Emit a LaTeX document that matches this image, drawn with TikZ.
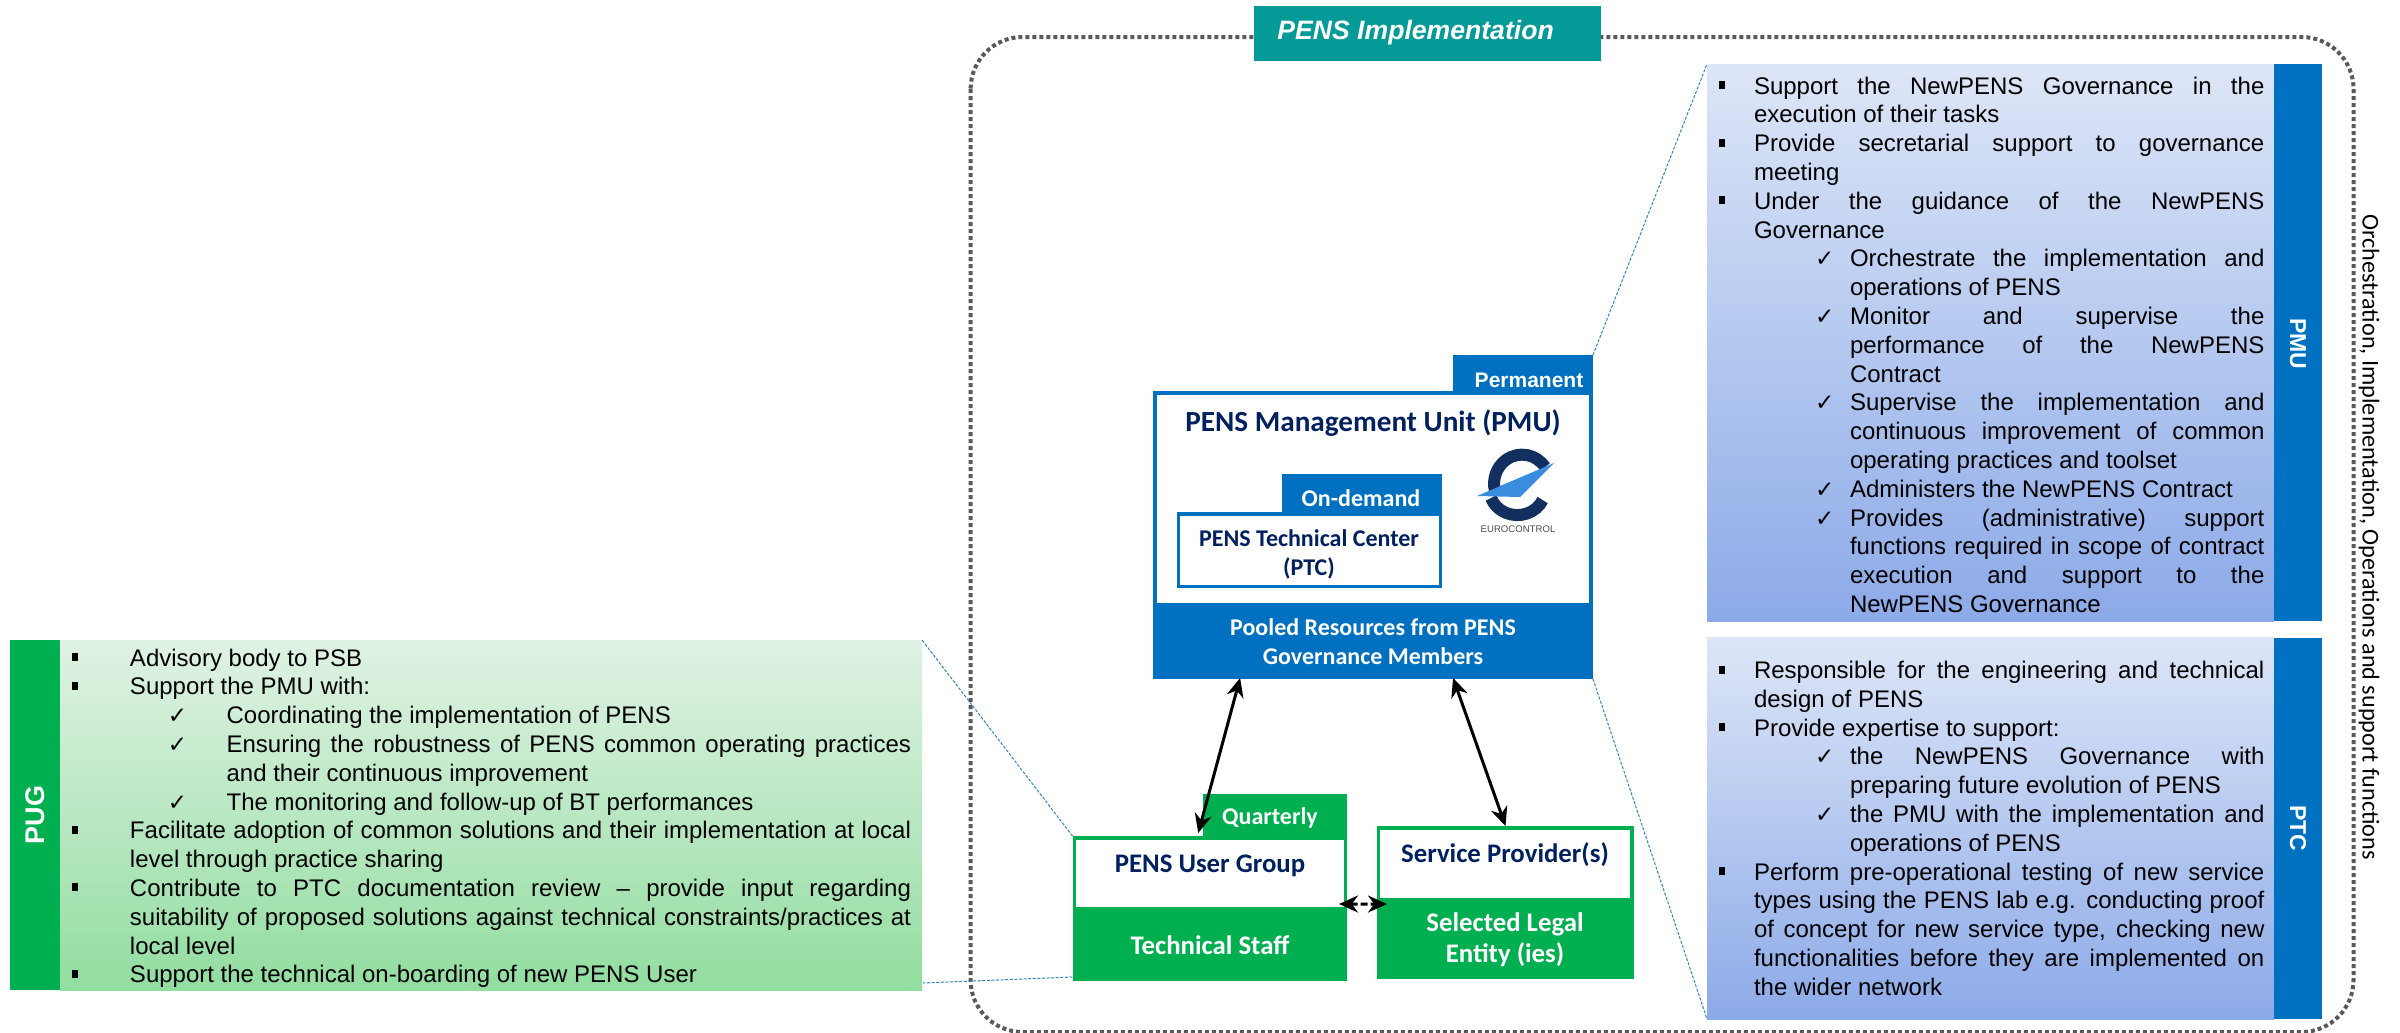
\documentclass[tikz,border=0pt]{standalone}
\usepackage{fontspec}
\setmainfont{Liberation Sans}
\newfontfamily\calib{Carlito}
\newfontfamily\symb{DejaVu Sans}
\usetikzlibrary{arrows.meta,calc}
\definecolor{pblue}{HTML}{0070C0}
\definecolor{pgreen}{HTML}{00B050}
\definecolor{pnavy}{HTML}{002060}
\definecolor{pteal}{HTML}{039A97}
\definecolor{pgrey}{HTML}{595959}
\definecolor{pline}{HTML}{2E86C8}
\definecolor{logodark}{HTML}{12305F}
\definecolor{logolight}{HTML}{3A8DDE}
\hbadness=10000 \hfuzz=20pt
\newlength\pw \newlength\mkx \newlength\txa \newlength\cka \newlength\txb
\newcommand\lineraw[4]{\hbox to \pw{\vrule height10.5pt depth3.9pt width0pt\hskip#1\rlap{#2}\hskip-#1\hskip#3\relax #4}}
\newcommand\mkbul{\raise2.5pt\hbox{\vrule width3pt height4pt depth0pt}}
\newcommand\mkchk{{\symb\fontsize{11.5}{12}\selectfont\char"2713}}
\newcommand\Bj[1]{\lineraw{\mkx}{\mkbul}{\txa}{#1}}
\newcommand\Bn[1]{\lineraw{\mkx}{\mkbul}{\txa}{#1\hfil}}
\newcommand\Tj[1]{\lineraw{\mkx}{}{\txa}{#1}}
\newcommand\Tn[1]{\lineraw{\mkx}{}{\txa}{#1\hfil}}
\newcommand\Cj[1]{\lineraw{\cka}{\mkchk}{\txb}{#1}}
\newcommand\Cn[1]{\lineraw{\cka}{\mkchk}{\txb}{#1\hfil}}
\newcommand\Uj[1]{\lineraw{\cka}{}{\txb}{#1}}
\newcommand\Un[1]{\lineraw{\cka}{}{\txb}{#1\hfil}}
\newcommand\panellines[6]{\setlength\pw{#1}\setlength\mkx{#2}\setlength\txa{#3}\setlength\cka{#4}\setlength\txb{#5}\vbox{\offinterlineskip\fontsize{12}{14.4}\selectfont #6}}
\newcommand\boxnode[6]{%
  \pgfmathsetmacro\pbw{(#4-#2)*0.5}\pgfmathsetmacro\pbh{(#5-#3)*0.5}%
  \node[plainbox,#6,minimum width=\pbw pt,minimum height=\pbh pt,anchor=north west] (#1) at (#2,#3) {};}
\tikzset{
  plainbox/.style={inner sep=0pt,outer sep=0pt,draw=none},
  bluefill/.style={fill=pblue},
  greenfill/.style={fill=pgreen},
  whitefill/.style={fill=white},
  bluegrad/.style={top color={rgb,255:red,221;green,230;blue,247},bottom color={rgb,255:red,140;green,170;blue,232}},
  greengrad/.style={top color={rgb,255:red,224;green,242;blue,228},bottom color={rgb,255:red,146;green,221;blue,160}},
  titlelabel/.style={font=\calib\bfseries\fontsize{14.6}{17}\selectfont,text=pnavy,inner sep=0pt},
  navylabel/.style={font=\calib\bfseries\fontsize{12}{14.5}\selectfont,text=pnavy,inner sep=0pt,align=center},
  whitelabel/.style={font=\calib\bfseries\fontsize{12}{14.5}\selectfont,text=white,inner sep=0pt,align=center},
  navybig/.style={navylabel,font=\calib\bfseries\fontsize{13.4}{16}\selectfont},
  whitebig/.style={whitelabel,font=\calib\bfseries\fontsize{13.4}{15.6}\selectfont},
  taglabel/.style={font=\bfseries\fontsize{10.5}{12}\selectfont,text=white,inner sep=0pt},
  sidelabel/.style={font=\bfseries\fontsize{11.5}{13}\selectfont,text=white,inner sep=0pt},
  listtext/.style={inner sep=0pt,outer sep=0pt,anchor=north west},
  framepath/.style={draw=pgrey,line width=2pt,dash pattern=on 2pt off 1.5pt,rounded corners=26pt},
  zoomline/.style={draw=pline,line width=0.5pt,dash pattern=on 1.5pt off 0.8pt},
  biarrow/.style={draw=black,line width=1.5pt,{Stealth[length=9.5pt,width=8.5pt]}-{Stealth[length=9.5pt,width=8.5pt]}},
  dasharrow/.style={biarrow,dash pattern=on 3.5pt off 1.5pt},
}
\begin{document}
\begin{tikzpicture}[x=0.5pt,y=-0.5pt]
\useasboundingbox (0,0) rectangle (2400,1033);
% frame
\draw[framepath] (970.6,37) rectangle (2353.5,1032);
\boxnode{titlebox}{1254}{6}{1601}{61}{fill=pteal}
\node[font=\bfseries\itshape\fontsize{13.3}{16}\selectfont,text=white,inner sep=0pt,anchor=west] (titletext) at (1277,33) {PENS Implementation};
% side text
\node[font=\calib\fontsize{12.1}{15}\selectfont,inner sep=0pt,rotate=-90] (sidetext) at (2369,537) {Orchestration, Implementation, Operations and support functions};
% PMU panel
\boxnode{pmupanel}{1707}{64}{2274}{621}{bluegrad}
\boxnode{pmutab}{2274}{64}{2322}{621}{bluefill}
\node[sidelabel,rotate=-90] (pmutabtext) at (2298,344) {PMU};
\node[listtext] (pmulist) at (1707,73) {\panellines{278.7pt}{6pt}{23.5pt}{54pt}{71.5pt}{%
\Bj{Support the NewPENS Governance in the}
\Tn{execution of their tasks}
\Bj{Provide secretarial support to governance}
\Tn{meeting}
\Bj{Under the guidance of the NewPENS}
\Tn{Governance}
\Cj{Orchestrate the implementation and}
\Un{operations of PENS}
\Cj{Monitor and supervise the}
\Uj{performance of the NewPENS}
\Un{Contract}
\Cj{Supervise the implementation and}
\Uj{continuous improvement of common}
\Un{operating practices and toolset}
\Cn{Administers the NewPENS Contract}
\Cj{Provides (administrative) support}
\Uj{functions required in scope of contract}
\Uj{execution and support to the}
\Un{NewPENS Governance}
}};
% PTC panel
\boxnode{ptcpanel}{1707}{637}{2274}{1019}{bluegrad}
\boxnode{ptctab}{2274}{638}{2322}{1019}{bluefill}
\node[sidelabel,rotate=-90] (ptctabtext) at (2298,828) {PTC};
\node[listtext] (ptclist) at (1707,657.5) {\panellines{278.7pt}{6pt}{23.5pt}{54pt}{71.5pt}{%
\Bj{Responsible for the engineering and technical}
\Tn{design of PENS}
\Bn{Provide expertise to support:}
\Cj{the NewPENS Governance with}
\Un{preparing future evolution of PENS}
\Cj{the PMU with the implementation and}
\Un{operations of PENS}
\Bj{Perform pre-operational testing of new service}
\Tj{types using the PENS lab e.g. conducting proof}
\Tj{of concept for new service type, checking new}
\Tj{functionalities before they are implemented on}
\Tn{the wider network}
}};
% PUG panel
\boxnode{pugtab}{10}{640}{60}{990}{greenfill}
\boxnode{pugpanel}{60}{640}{922}{990}{greengrad}
\node[sidelabel,font=\bfseries\fontsize{13.5}{15}\selectfont,rotate=90] (pugtabtext) at (35,815) {PUG};
\node[listtext] (puglist) at (60,645) {\panellines{425.5pt}{6pt}{35pt}{54pt}{83.3pt}{%
\Bn{Advisory body to PSB}
\Bn{Support the PMU with:}
\Cn{Coordinating the implementation of PENS}
\Cj{Ensuring the robustness of PENS common operating practices}
\Un{and their continuous improvement}
\Cn{The monitoring and follow-up of BT performances}
\Bj{Facilitate adoption of common solutions and their implementation at local}
\Tn{level through practice sharing}
\Bj{Contribute to PTC documentation review – provide input regarding}
\Tj{suitability of proposed solutions against technical constraints/practices at}
\Tn{local level}
\Bn{Support the technical on-boarding of new PENS User}
}};
% PMU box
\boxnode{pmu}{1153}{391}{1593}{679}{bluefill}
\boxnode{pmuinner}{1157}{395}{1589}{603}{whitefill}
\boxnode{pmutag}{1453}{355}{1593}{395}{bluefill}
\node[taglabel] (pmutagtext) at (1529,380) {Permanent};
\node[titlelabel] (pmutitle) at (1373,423) {PENS Management Unit (PMU)};
\node[whitelabel] (pmupool) at (1373,642) {Pooled Resources from PENS\\Governance Members};
% PTC box
\boxnode{ptctag}{1282}{474}{1442}{516}{bluefill}
\node[whitelabel] (ptctagtext) at (1361,498) {On-demand};
\boxnode{ptcbox}{1176.5}{512}{1442}{588}{bluefill}
\boxnode{ptcinner}{1180}{516}{1438.5}{584.5}{whitefill}
\node[navylabel] (ptctext) at (1309,554) {PENS Technical Center\\(PTC)};
% logo
\begin{scope}
\draw[logodark,line width=6pt] (1545,467) arc[start angle=35,end angle=195,x radius=14pt,y radius=14.5pt];
\draw[logodark,line width=6pt] (1491,498) arc[start angle=200,end angle=335,x radius=14pt,y radius=13pt];
\fill[logodark] (1491,490) -- (1530,474) -- (1510,490) -- cycle;
\fill[logolight] (1477,496) -- (1554,463) -- (1520,497) -- cycle;
\end{scope}
\node[font=\fontsize{4.8}{5}\selectfont,text=black!70,inner sep=0pt] (logotext) at (1518,529) {EUROCONTROL};
% PUG box
\boxnode{pugtag}{1203}{794}{1347}{840}{greenfill}
\node[whitelabel] (pugtagtext) at (1270,818) {Quarterly};
\boxnode{pug}{1072.5}{836}{1347}{981}{greenfill}
\boxnode{puginner}{1076}{840}{1344}{907}{whitefill}
\node[navybig] (pugtitle) at (1210,866) {PENS User Group};
\node[whitebig] (pugstaff) at (1210,945) {Technical Staff};
% SP box
\boxnode{sp}{1377}{826}{1634}{979}{greenfill}
\boxnode{spinner}{1380}{830}{1630}{898}{whitefill}
\node[navybig] (sptitle) at (1505,855) {Service Provider(s)};
\node[whitebig] (spstaff) at (1505,940) {Selected Legal\\Entity (ies)};
% zoom lines
\draw[zoomline] (pmutag.north east) -- (pmupanel.north west);
\draw[zoomline] (pmu.south east) -- (ptcpanel.south west);
\draw[zoomline] (pug.north west) -- (pugpanel.north east);
\draw[zoomline] ($(pug.south west)+(0,-4)$) -- ($(pugpanel.south east)+(1,-7)$);
% arrows
\draw[biarrow] ($(pmu.south west)!0.198!(pmu.south east)+(0,-1)$) -- ($(pug.north west)!0.458!(pug.north east)+(0,-3)$);
\draw[biarrow] ($(pmu.south west)!0.682!(pmu.south east)+(0,-1)$) -- (sp.north);
\draw[dasharrow] ($(pug.north east)!0.469!(pug.south east)+(-8,0)$) -- ($(sp.north west)!0.51!(sp.south west)+(10,0)$);
\end{tikzpicture}
\end{document}
